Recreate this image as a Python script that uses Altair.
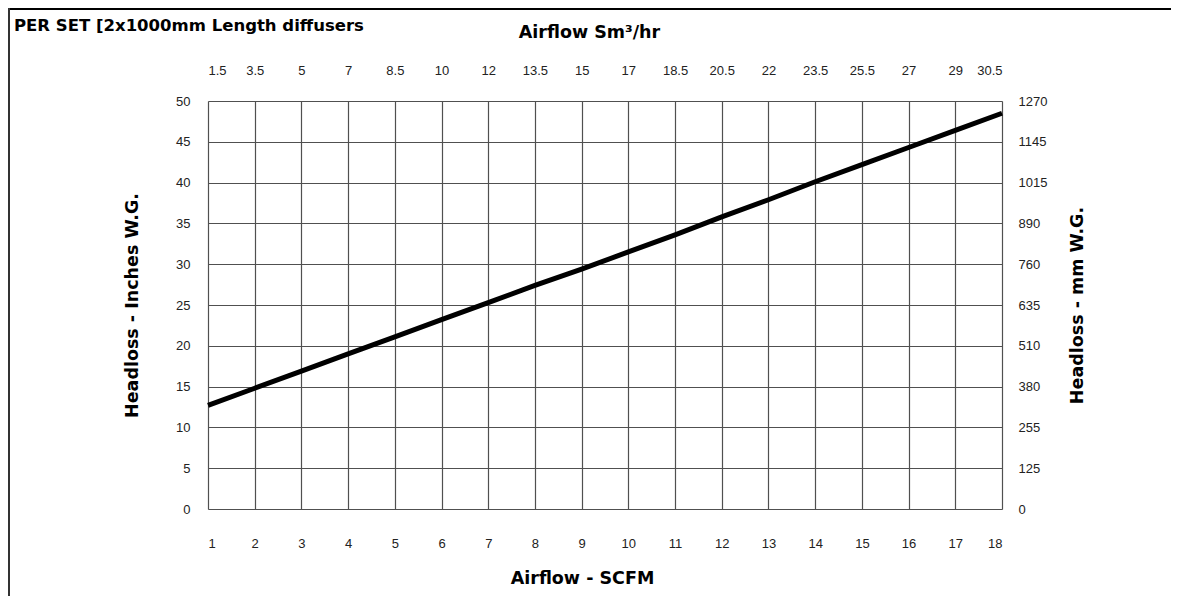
import json
import altair as alt
import pandas as pd

# ---- data ----
scfm = list(range(1, 19))
headloss_in = [12.7, 14.8, 16.9, 19.0, 21.1, 23.2, 25.3, 27.4, 29.4,
               31.5, 33.6, 35.8, 37.9, 40.1, 42.2, 44.3, 46.4, 48.5]
sm3_labels = ["1.5", "3.5", "5", "7", "8.5", "10", "12", "13.5", "15", "17",
              "18.5", "20.5", "22", "23.5", "25.5", "27", "29", "30.5"]
y_ticks = [0, 5, 10, 15, 20, 25, 30, 35, 40, 45, 50]
mm_labels = ["0", "125", "255", "380", "510", "635", "760", "890", "1015", "1145", "1270"]

df = pd.DataFrame({"scfm": scfm, "headloss": headloss_in})

FONT = "Liberation Sans"
TITLE_FONT = "DejaVu Sans"
LABEL_COLOR = "#222222"
GRID_COLOR = "#505050"

xscale = alt.Scale(domain=[1, 18], nice=False, zero=False)
yscale = alt.Scale(domain=[0, 50], nice=False)

common_axis = dict(
    labelFont=FONT, labelFontSize=13, labelColor=LABEL_COLOR,
    titleFont=TITLE_FONT, titleFontSize=17.5, titleFontWeight="bold", titleColor="#000000",
    ticks=False, domain=False,
)

line = alt.Chart(df).mark_line(color="black", strokeWidth=5, strokeCap="butt").encode(
    x=alt.X("scfm:Q", scale=xscale,
            axis=alt.Axis(orient="bottom", values=scfm, title="Airflow - SCFM",
                          grid=True, gridColor=GRID_COLOR, gridWidth=1.2, gridOpacity=1,
                          labelPadding=28, titlePadding=19, titleX=374, **common_axis)),
    y=alt.Y("headloss:Q", scale=yscale,
            axis=alt.Axis(orient="left", values=y_ticks, title="Headloss - Inches W.G.",
                          grid=True, gridColor=GRID_COLOR, gridWidth=1.2, gridOpacity=1,
                          labelPadding=18, titlePadding=34, **common_axis)),
)

top_expr = json.dumps(sm3_labels) + "[round(datum.value) - 1]"
right_expr = json.dumps(mm_labels) + "[round(datum.value / 5)]"

aux = alt.Chart(df).mark_line(opacity=0).encode(
    x=alt.X("scfm:Q", scale=xscale,
            axis=alt.Axis(orient="top", values=scfm, title="Airflow Sm³/hr",
                          labelExpr=top_expr, grid=False, titleX=381,
                          labelPadding=24, titlePadding=23, **common_axis)),
    y=alt.Y("headloss:Q", scale=yscale,
            axis=alt.Axis(orient="right", values=y_ticks, title="Headloss - mm W.G.",
                          labelExpr=right_expr, grid=False, titleAngle=270,
                          labelPadding=16, titlePadding=40, **common_axis)),
)

border_df = pd.DataFrame({"k": [0]})
top_border = alt.Chart(border_df).mark_rule(color="black", strokeWidth=2).encode(
    x=alt.value(-200), x2=alt.value(963), y=alt.value(-92))
left_border = alt.Chart(border_df).mark_rule(color="#333333", strokeWidth=2).encode(
    x=alt.value(-199), y=alt.value(-93), y2=alt.value(495))

chart = alt.layer(line, aux, top_border, left_border).resolve_scale(
    x="independent", y="independent"
).properties(
    width=794, height=408,
    padding={"left": 200, "top": 93, "right": 169, "bottom": 87},
    autosize=alt.AutoSizeParams(type="none"),
    title=alt.Title("PER SET [2x1000mm Length diffusers", anchor="start", frame="group",
                    font=TITLE_FONT, fontSize=16.5, fontWeight="bold", color="#000000",
                    dx=-194, dy=31),
).configure_view(
    stroke="black", strokeWidth=1.5, fill="#fdfdfd"
).configure(background="white")

chart.save("out.html", embed_options={"renderer": "svg", "actions": False})
